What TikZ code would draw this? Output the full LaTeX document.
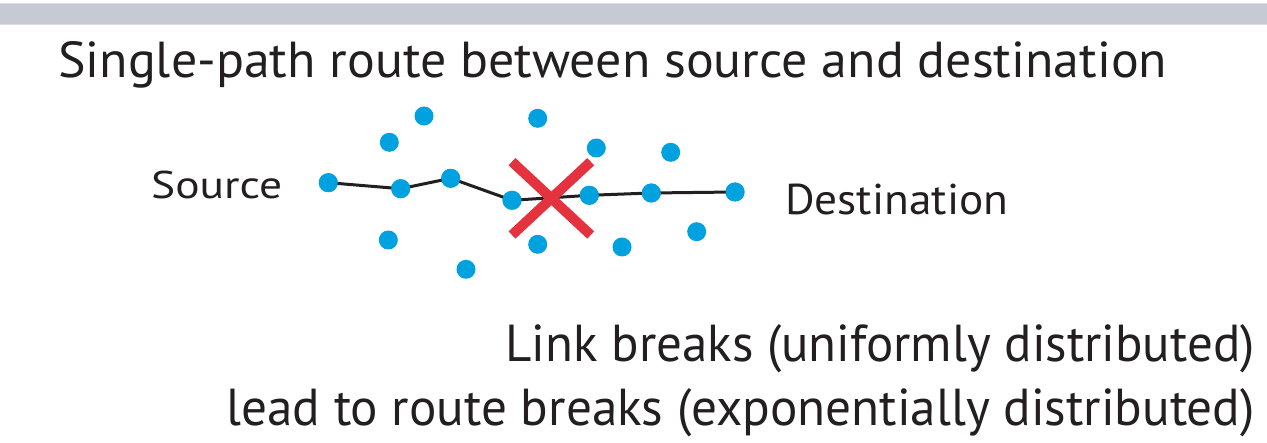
\documentclass[tikz,border=0pt]{standalone}
\usepackage{fontspec}
\usepackage{graphicx}
\setmainfont{PT Sans}
\definecolor{dotblue}{HTML}{00A1DF}
\definecolor{xred}{HTML}{E5323F}
\definecolor{ink}{HTML}{231F20}
\definecolor{barfill}{HTML}{C7CAD3}
\definecolor{baredge}{HTML}{DEDDE6}
\newcommand{\fitbox}[3]{\resizebox{#1}{#2}{#3}}
\tikzset{
  dot/.style={circle, fill=dotblue, draw=none, minimum size=19pt, inner sep=0pt},
  pathline/.style={draw=ink, line width=3pt},
  cross/.style={draw=xred, line width=10pt},
  lbl/.style={inner sep=0pt, text=ink},
}
\begin{document}
\begin{tikzpicture}[x=1pt, y=-1pt]
\useasboundingbox (0,0) rectangle (1267,443);
\fill[white] (0,0) rectangle (1267,443);
% top bar
\fill[baredge] (0,3) rectangle (1267,25.5);
\fill[barfill] (0,4.5) rectangle (1267,24);

% texts
\node[lbl, anchor=base west] (title) at (58,78) {\fitbox{1109pt}{36pt}{Single-path route between source and destination}};
\node[lbl, anchor=base west] (srclbl) at (151,199) {\fitbox{131pt}{27.5pt}{Source}};
\node[lbl, anchor=base west] (dstlbl) at (785,215) {\fitbox{223pt}{30.5pt}{Destination}};
\node[lbl, anchor=base east] (note1) at (1255,362) {\fitbox{749pt}{37pt}{Link breaks (uniformly distributed)}};
\node[lbl, anchor=base east] (note2) at (1255,426) {\fitbox{1028pt}{37pt}{lead to route breaks (exponentially distributed)}};

% route nodes
\node[dot] (s)  at (328.3,182.7) {};
\node[dot] (r1) at (400.7,188.7) {};
\node[dot] (r2) at (450.7,178.3) {};
\node[dot] (r3) at (512,200.3) {};
\node[dot] (r4) at (589.3,195.3) {};
\node[dot] (r5) at (651.3,193) {};
\node[dot] (d)  at (735,192) {};
% other nodes
\node[dot] (o1)  at (424,116) {};
\node[dot] (o2)  at (389.3,142.3) {};
\node[dot] (o3)  at (537.7,118.3) {};
\node[dot] (o4)  at (596.3,148) {};
\node[dot] (o5)  at (670.7,152.3) {};
\node[dot] (o6)  at (388.3,240) {};
\node[dot] (o7)  at (466,269.3) {};
\node[dot] (o8)  at (537.7,244.3) {};
\node[dot] (o9)  at (622,247) {};
\node[dot] (o10) at (696.7,231.7) {};

% route links
\draw[pathline] (s.center) -- (r1.center) -- (r2.center) -- (r3.center) -- (r4.center) -- (r5.center) -- (d.center);
% redraw dots on top of the line
\foreach \n in {s,r1,r2,r3,r4,r5,d}{
  \fill[dotblue] (\n.center) circle (9.5pt);
}

% break cross
\coordinate (xa) at (512,161.7);
\coordinate (xb) at (590.7,235);
\coordinate (xc) at (590.7,161.7);
\coordinate (xd) at (512,235);
\draw[cross] (xa) -- (xb);
\draw[cross] (xc) -- (xd);
\end{tikzpicture}
\end{document}
